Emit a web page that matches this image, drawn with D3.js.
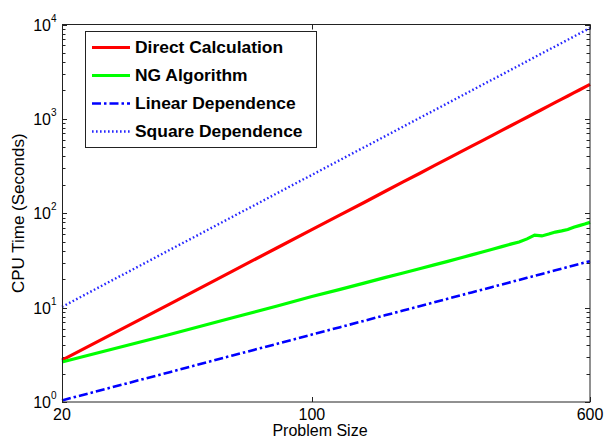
<!DOCTYPE html>
<html>
<head>
<meta charset="utf-8">
<script src="https://cdn.jsdelivr.net/npm/d3@7"></script>
<style>
  body { margin: 0; background: #fff; }
  text { font-family: "Liberation Sans", Arial, sans-serif; }
</style>
</head>
<body>
<svg id="chart" width="604" height="440"></svg>
<script>
// problem sizes (x) shared by every series
let sizes = [20, 40, 60, 80, 100, 120, 140, 160, 180, 200, 220, 240, 260, 280, 300,
             320, 340, 360, 380, 400, 420, 440, 460, 480, 500, 520, 540, 560, 580, 600];

// CPU time in seconds
let directCalc = [2.78, 10.9, 24.4, 43.1, 67.1, 96.2, 130, 170, 215, 264, 319, 379, 444, 514, 589,
                  669, 755, 845, 941, 1040, 1147, 1257, 1373, 1494, 1619, 1749, 1885, 2025, 2171, 2322];
let ngAlgorithm = [2.65, 5.2, 7.8, 10.4, 13.1, 15.6, 18.2, 20.8, 23.3, 25.8, 28.4, 30.9, 33.5, 36.2, 38.8,
                   41.5, 44.3, 47.1, 49.6, 53.5, 58.6, 57.5, 60.2, 63.2, 65.0, 67.3, 71.2, 74.0, 76.8, 80.0];
let linearDep = [1.04, 2.07, 3.11, 4.14, 5.18, 6.21, 7.25, 8.28, 9.32, 10.35, 11.39, 12.42, 13.46, 14.49, 15.53,
                 16.56, 17.6, 18.63, 19.67, 20.7, 21.74, 22.77, 23.81, 24.84, 25.88, 26.91, 27.95, 28.98, 30.02, 31.05];
let squareDep = [10.2, 40.8, 91.8, 163.2, 255, 367.2, 499.8, 652.8, 826.2, 1020, 1234.2, 1468.8, 1723.8, 1999.2, 2295,
                 2611.2, 2947.8, 3304.8, 3682.2, 4080, 4498.2, 4936.8, 5395.8, 5875.2, 6375, 6895.2, 7435.8, 7996.8, 8578.2, 9180];

let seriesNames = ["Direct Calculation", "NG Algorithm", "Linear Dependence", "Square Dependence"];
let xTicks = [20, 100, 600];
let yExponents = [0, 1, 2, 3, 4];

let svg = d3.select("#chart");
let plotLeft = 62, plotRight = 590, plotTop = 24.5, plotBottom = 402;

let xScale = d3.scaleLog().domain([20, 600]).range([plotLeft, plotRight]);
let yScale = d3.scaleLog().domain([1, 10000]).range([plotBottom, plotTop]);

// line styles for each series
let styles = [
    {color: "#ff0000", width: 3.2, dash: null},
    {color: "#00ff00", width: 3.2, dash: null},
    {color: "#0000ff", width: 2.6, dash: "9,3,2.5,3"},
    {color: "#2626ff", width: 2.4, dash: "1.6,2.4"}
];
let allSeries = [directCalc, ngAlgorithm, linearDep, squareDep];

// minor + major y ticks
let yTickVals = [];
yExponents.forEach(function (e) {
    if (e < 4) {
        for (let m = 1; m < 10; m++) yTickVals.push({v: m * Math.pow(10, e), major: m == 1});
    } else {
        yTickVals.push({v: 10000, major: true});
    }
});

let axisColor = "#222";

// ticks on the left and right
let yt = svg.append("g");
yTickVals.forEach(function (t) {
    let y = Math.round(yScale(t.v)) + 0.5;
    let len = t.major ? 5 : 3.5;
    yt.append("line").attr("x1", plotLeft).attr("x2", plotLeft + len).attr("y1", y).attr("y2", y)
        .attr("stroke", axisColor).attr("stroke-width", 1);
    yt.append("line").attr("x1", plotRight).attr("x2", plotRight - len).attr("y1", y).attr("y2", y)
        .attr("stroke", axisColor).attr("stroke-width", 1);
});

// x ticks, bottom and top
xTicks.forEach(function (v) {
    let x = Math.round(xScale(v)) + 0.5;
    svg.append("line").attr("x1", x).attr("x2", x).attr("y1", plotBottom).attr("y2", plotBottom - 5)
        .attr("stroke", axisColor);
    svg.append("line").attr("x1", x).attr("x2", x).attr("y1", plotTop).attr("y2", plotTop + 5)
        .attr("stroke", axisColor);
    svg.append("text").attr("x", xScale(v)).attr("y", plotBottom + 18)
        .attr("text-anchor", "middle").attr("font-size", 16).text(v);
});

// y labels as 10 with superscript exponent
yExponents.forEach(function (e) {
    let y = yScale(Math.pow(10, e));
    svg.append("text").attr("x", 51).attr("y", y + 6)
        .attr("text-anchor", "end").attr("font-size", 16).text("10");
    svg.append("text").attr("x", 51).attr("y", y - 3)
        .attr("font-size", 10).text(e);
});

// the data lines
let line = d3.line()
    .x(function (d) { return xScale(d[0]); })
    .y(function (d) { return yScale(d[1]); });

let plot = svg.append("g");
allSeries.forEach(function (vals, i) {
    let pts = sizes.map(function (s, j) { return [s, vals[j]]; });
    plot.append("path").datum(pts)
        .attr("d", line)
        .attr("fill", "none")
        .attr("stroke", styles[i].color)
        .attr("stroke-width", styles[i].width)
        .attr("stroke-dasharray", styles[i].dash);
});

// axes box
svg.append("rect").attr("x", plotLeft + 0.5).attr("y", plotTop).attr("width", plotRight - plotLeft - 0.5)
    .attr("height", plotBottom - plotTop).attr("fill", "none").attr("stroke", axisColor);

// axis labels
svg.append("text").attr("x", 320).attr("y", plotBottom + 34)
    .attr("text-anchor", "middle").attr("font-size", 16).text("Problem Size");
svg.append("text").attr("transform", "translate(24," + ((plotTop + plotBottom) / 2) + ") rotate(-90)")
    .attr("text-anchor", "middle").attr("font-size", 17).text("CPU Time (Seconds)");

// legend
let lg = svg.append("g");
lg.append("rect").attr("x", 85.5).attr("y", 31.5).attr("width", 231).attr("height", 116)
    .attr("fill", "#fff").attr("stroke", axisColor);
seriesNames.forEach(function (name, i) {
    let y = 47.5 + i * 28;
    lg.append("line").attr("x1", 92).attr("x2", 130).attr("y1", y).attr("y2", y)
        .attr("stroke", styles[i].color).attr("stroke-width", styles[i].width)
        .attr("stroke-dasharray", styles[i].dash);
    lg.append("text").attr("transform", "translate(135," + (y + 5.5) + ") scale(1.09,1)")
        .attr("font-size", 16).attr("font-weight", "bold").text(name);
});
</script>
</body>
</html>
